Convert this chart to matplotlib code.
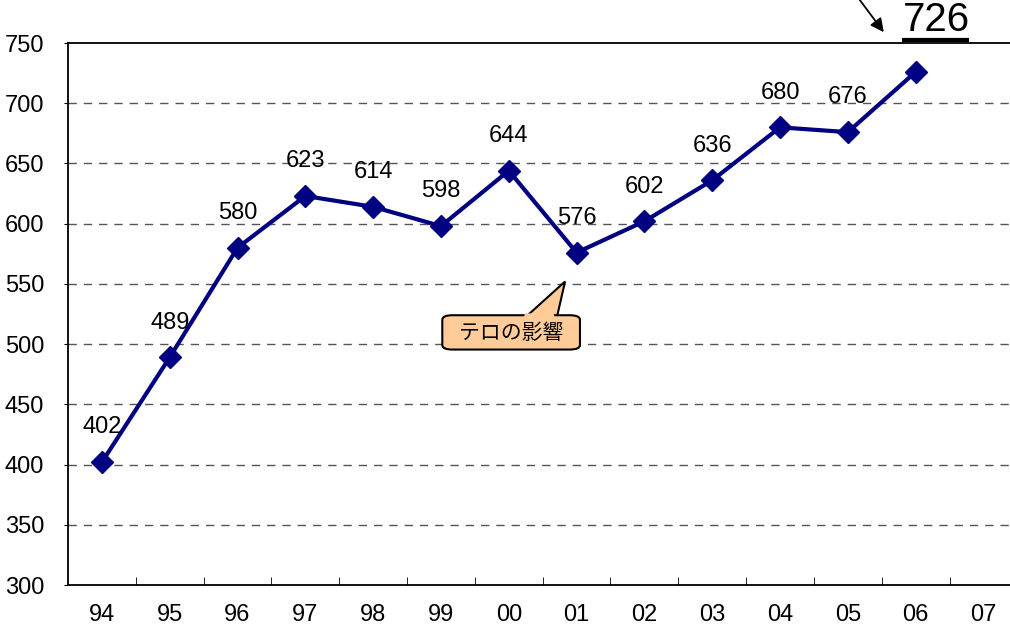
import matplotlib.pyplot as plt
from matplotlib.patches import Polygon, FancyBboxPatch

plt.rcParams['font.family'] = ['Liberation Sans', 'Noto Sans CJK JP', 'DejaVu Sans']

years = ['94', '95', '96', '97', '98', '99', '00', '01', '02', '03', '04', '05', '06', '07']
values = [402, 489, 580, 623, 614, 598, 644, 576, 602, 636, 680, 676, 726]
callout_text = 'テロの影響'

fig = plt.figure(figsize=(10.1, 6.3), dpi=100)
ax = fig.add_axes([0.0673, 0.0714, 0.94, 0.8603])

x = list(range(len(values)))
ax.plot(x, values, color='#000080', lw=3, marker='D', ms=11.5, zorder=3)

# value labels (last one is drawn separately at the top)
for xi, v in zip(x[:-1], values[:-1]):
    ax.annotate(str(v), (xi, v), xytext=(0, 25), textcoords='offset points',
                ha='center', va='center', fontsize=17)

ax.set_xlim(-0.5, len(years) - 0.5)
ax.set_ylim(300, 750)
ax.set_yticks(range(300, 751, 50))
ax.set_xticks([i + 0.5 for i in range(len(years) - 1)], minor=True)
ax.set_xticks(range(len(years)))
ax.set_xticklabels(years)
ax.tick_params(axis='x', which='major', length=0, pad=14, labelsize=17)
ax.tick_params(axis='x', which='minor', direction='in', length=6, color='black')
ax.tick_params(axis='y', length=3, pad=14, labelsize=17)

for y in range(350, 750, 50):
    ax.axhline(y, color='#555555', lw=1, ls=(0, (6, 5)), zorder=1)

ax.spines['right'].set_visible(False)
for s in ['left', 'bottom', 'top']:
    ax.spines[s].set_linewidth(1.3)

# headline value with arrow
ax.annotate('', xy=(11.53, 759), xytext=(11.12, 790),
            arrowprops=dict(arrowstyle='-|>', color='black', lw=1.3, mutation_scale=20,
                            shrinkA=0, shrinkB=0),
            annotation_clip=False)
ax.text(12.3, 769, '726', fontsize=29, ha='center', va='center')
ax.plot([11.8, 12.78], [752.5, 752.5], color='black', lw=3, clip_on=False,
        solid_capstyle='butt')

# callout
fc = '#FFCC99'
tri = Polygon([[6.2, 520], [6.7, 520], [6.83, 552]], closed=True,
              fc=fc, ec='black', lw=1.5, zorder=4)
ax.add_patch(tri)
box = FancyBboxPatch((5.02, 495.5), 2.03, 28.5, boxstyle='round,pad=0,rounding_size=0.15',
                     mutation_aspect=25, fc=fc, ec='black', lw=1.5, zorder=5)
ax.add_patch(box)
ax.add_patch(Polygon([[6.22, 522], [6.68, 522], [6.66, 525.5], [6.24, 525.5]], closed=True,
                     fc=fc, ec='none', zorder=6))
ax.text(6.04, 509, callout_text, ha='center', va='center', fontsize=15,
        family=['Noto Sans CJK JP'], zorder=7)

fig.savefig('out.png', dpi=100)
